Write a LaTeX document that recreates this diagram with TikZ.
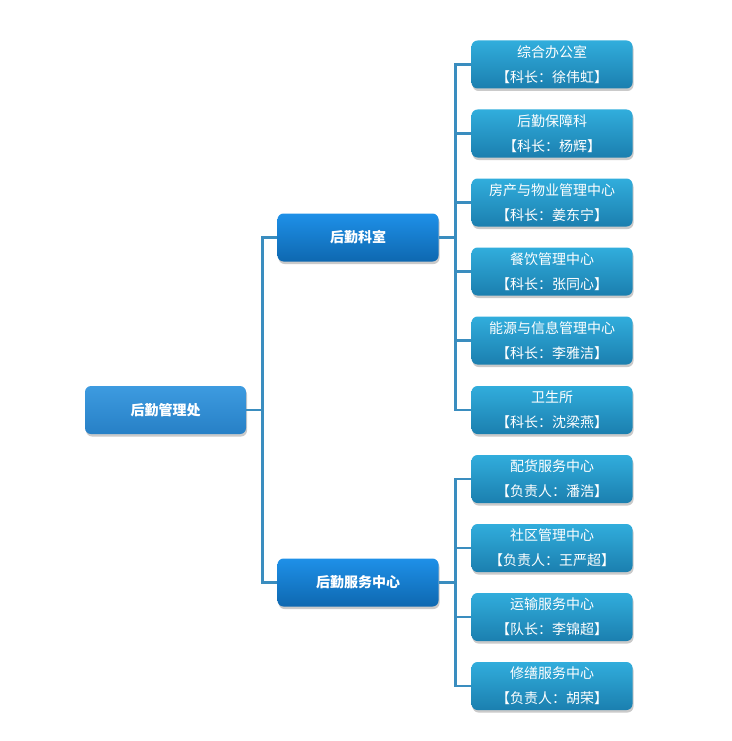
\documentclass[tikz,border=0pt]{standalone}
\usepackage{fontspec}
\setmainfont{Noto Sans CJK SC}
\usetikzlibrary{shadows}
\definecolor{linec}{HTML}{3A8DBF}
\definecolor{roottop}{HTML}{3D9BE0}
\definecolor{rootbot}{HTML}{2780C6}
\definecolor{midtop}{HTML}{1E90E8}
\definecolor{midbot}{HTML}{0E68B0}
\definecolor{leaftop}{HTML}{31ADDC}
\definecolor{leafbot}{HTML}{1B7FAF}
\tikzset{
  base/.style={rounded corners=6pt, minimum width=161pt, minimum height=48pt, inner sep=0pt,
    text=white, align=center, draw=none,
    drop shadow={shadow xshift=1pt, shadow yshift=-2.5pt, opacity=0.35, fill=black!60}},
  rootbox/.style={base, top color=roottop, bottom color=rootbot, font=\fontsize{14}{18}\selectfont\bfseries},
  midbox/.style={base, top color=midtop, bottom color=midbot, font=\fontsize{14}{18}\selectfont\bfseries},
  leafbox/.style={base, top color=leaftop, bottom color=leafbot, font=\fontsize{14}{25}\selectfont},
  conn/.style={draw=linec, line width=2.6pt}
}
\begin{document}
\begin{tikzpicture}[x=1pt,y=-1pt]
\useasboundingbox (0,0) rectangle (731,741);
\node[rootbox] (root) at (165.5,410) {后勤管理处};
\node[midbox] (m1) at (358,237.5) {后勤科室};
\node[midbox] (m2) at (358,582.5) {后勤服务中心};
\node[leafbox] (l1) at (552,64.5) {综合办公室\\【科长：徐伟虹】};
\node[leafbox] (l2) at (552,133.5) {后勤保障科\\【科长：杨辉】};
\node[leafbox] (l3) at (552,202.5) {房产与物业管理中心\\【科长：姜东宁】};
\node[leafbox] (l4) at (552,271.5) {餐饮管理中心\\【科长：张同心】};
\node[leafbox] (l5) at (552,340.5) {能源与信息管理中心\\【科长：李雅洁】};
\node[leafbox] (l6) at (552,410) {卫生所\\【科长：沈梁燕】};
\node[leafbox] (l7) at (552,479) {配货服务中心\\【负责人：潘浩】};
\node[leafbox] (l8) at (552,548) {社区管理中心\\【负责人：王严超】};
\node[leafbox] (l9) at (552,617) {运输服务中心\\【队长：李锦超】};
\node[leafbox] (l10) at (552,686) {修缮服务中心\\【负责人：胡荣】};
\begin{scope}[on background layer/.style={}]
\end{scope}
\draw[conn] (root.east) -- ++(16,0) coordinate (j0);
\draw[conn] (m1.west) -| (j0);
\draw[conn] (m2.west) -| (j0);
\draw[conn] (m1.east) -- ++(17,0) coordinate (j1);
\foreach \n in {l1,l2,l3,l4,l5,l6} \draw[conn] (\n.west) -| (j1);
\draw[conn] (m2.east) -- ++(17,0) coordinate (j2);
\foreach \n in {l7,l8,l9,l10} \draw[conn] (\n.west) -| (j2);
\end{tikzpicture}
\end{document}
